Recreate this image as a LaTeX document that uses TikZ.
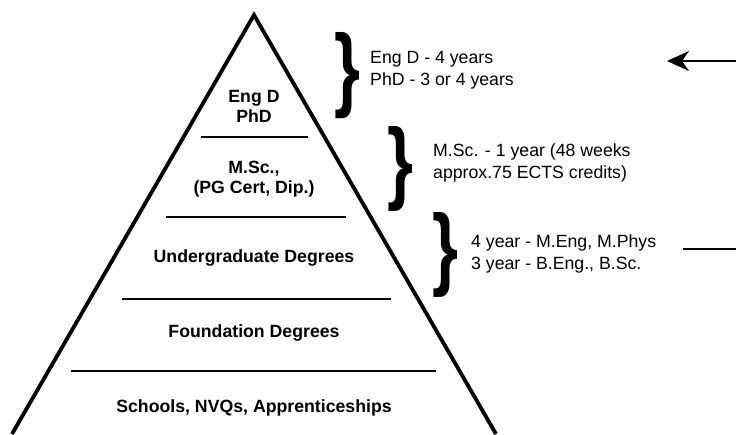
\documentclass[tikz,border=0pt]{standalone}
\usepackage{fontspec}
\setmainfont{Liberation Sans}
\usetikzlibrary{arrows.meta}
\begin{document}
\begin{tikzpicture}[x=1pt,y=-1pt,
  side/.style={line width=3.8pt, line join=miter},
  tier/.style={line width=2.4pt},
  lvl/.style={font=\fontsize{17.7}{20}\selectfont\bfseries, align=center, inner sep=0pt},
  note/.style={font=\fontsize{17.7}{22}\selectfont, align=left, anchor=west, inner sep=0pt},
  curly/.style={inner sep=0pt, outer sep=0pt},
]
\useasboundingbox (0,0) rectangle (736,434);
% pyramid
\coordinate (apex) at (254,15);
\coordinate (bl) at (12,434);
\coordinate (br) at (496,434);
\draw[side] (bl) -- (apex) -- (br);
% tier lines
\coordinate (t1a) at (201,137); \coordinate (t1b) at (308,137);
\coordinate (t2a) at (166,217); \coordinate (t2b) at (346,217);
\coordinate (t3a) at (122,299); \coordinate (t3b) at (391,299);
\coordinate (t4a) at (71,371);  \coordinate (t4b) at (436,371);
\draw[tier] (t1a) -- (t1b);
\draw[tier] (t2a) -- (t2b);
\draw[tier] (t3a) -- (t3b);
\draw[tier] (t4a) -- (t4b);
% level labels
\node[lvl] (phd) at (254,106) {Eng D\\PhD};
\node[lvl] (msc) at (254,179) {M.Sc.,\\(PG Cert, Dip.)};
\node[lvl] (ug) at (254,258) {Undergraduate Degrees};
\node[lvl] (fd) at (254,333) {Foundation Degrees};
\node[lvl] (sch) at (254,408) {Schools, NVQs, Apprenticeships};
% braces
\node[curly] (b1) at (347,76) {\resizebox{26pt}{67pt}{\bfseries\}}};
\node[curly] (b2) at (400,169) {\resizebox{26pt}{66pt}{\bfseries\}}};
\node[curly] (b3) at (445,254.5) {\resizebox{26pt}{66pt}{\bfseries\}}};
% notes
\node[note] (n1) at (370,70) {Eng D - 4 years\\PhD - 3 or 4 years};
\node[note] (n2) at (433,163) {M.Sc. - 1 year (48 weeks\\approx.75 ECTS credits)};
\node[note] (n3) at (471,254) {4 year - M.Eng, M.Phys\\3 year - B.Eng., B.Sc.};
% arrow and line at right
\coordinate (a1) at (736,61); \coordinate (a2) at (667,61);
\draw[line width=1.8pt, -{Stealth[length=22pt, width=20pt, inset=7pt]}] (a1) -- (a2);
\coordinate (l1) at (683,249); \coordinate (l2) at (736,249);
\draw[line width=1.8pt] (l1) -- (l2);
\end{tikzpicture}
\end{document}
